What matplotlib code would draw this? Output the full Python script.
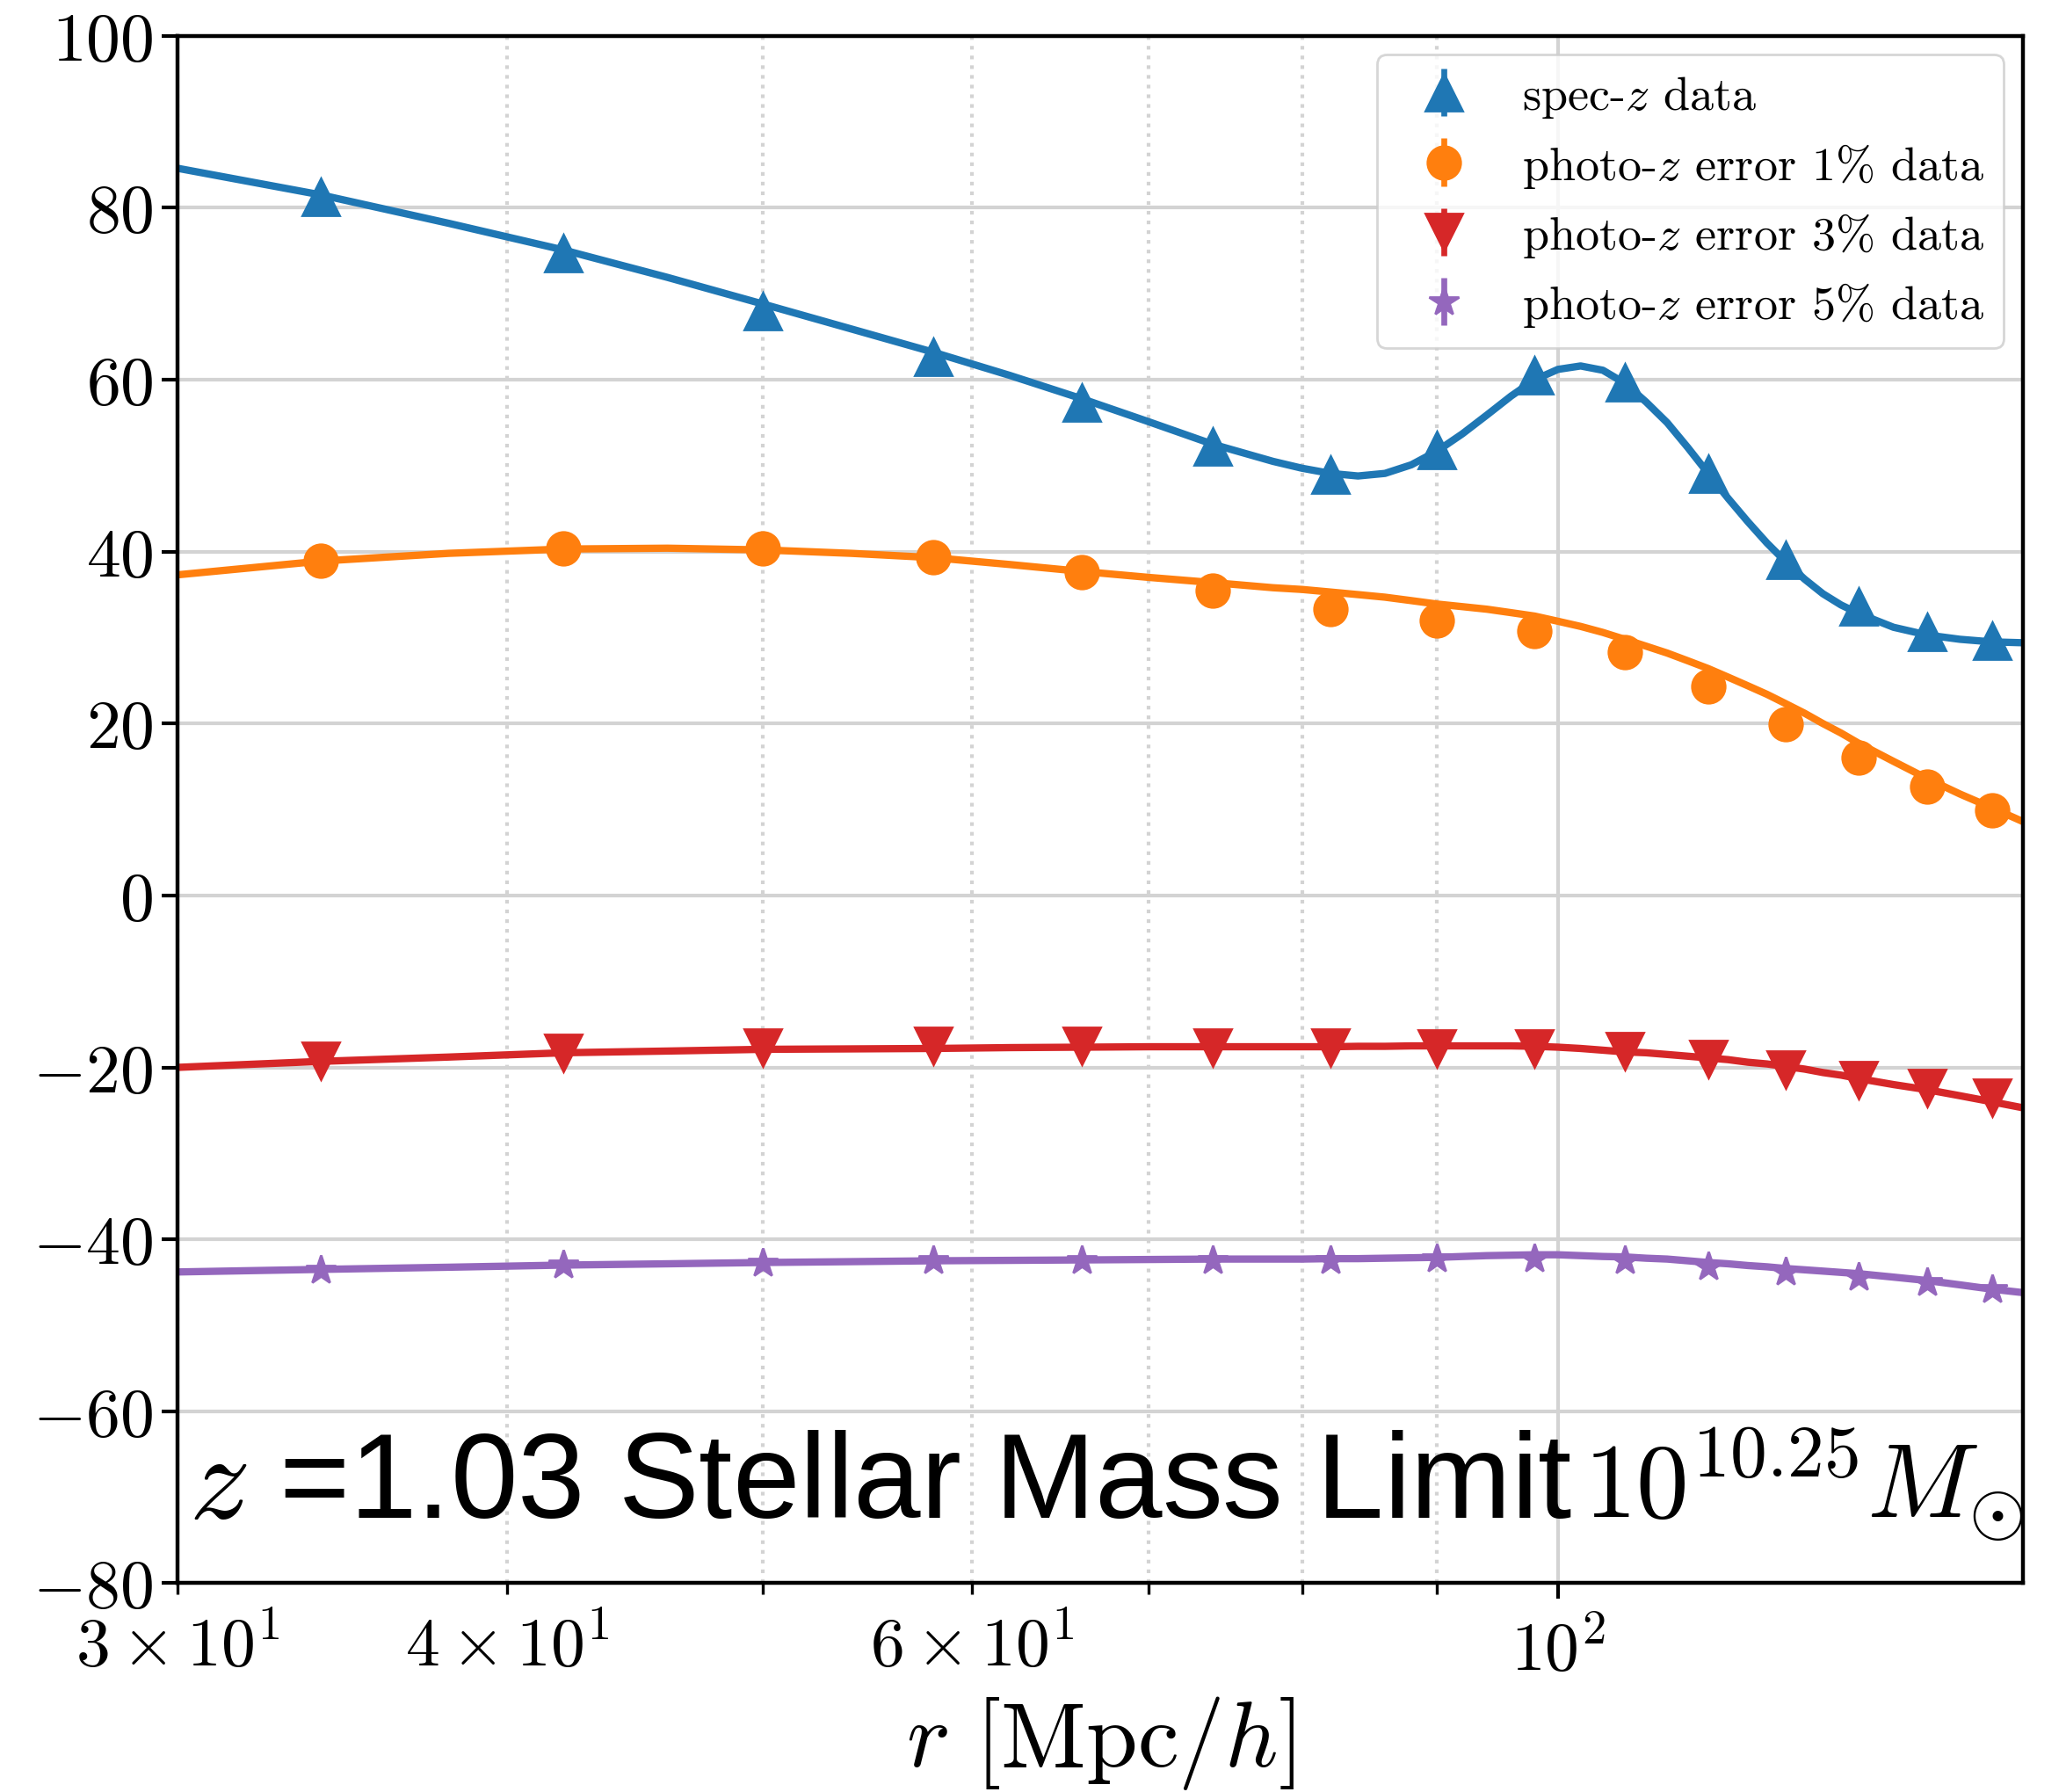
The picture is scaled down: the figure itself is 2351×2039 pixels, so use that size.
import numpy as np
import matplotlib
matplotlib.use('Agg')
from matplotlib import pyplot as plt
from matplotlib.ticker import FuncFormatter, MultipleLocator

plt.rcParams['font.family'] = 'serif'
plt.rcParams['font.serif'] = ['cmr10']
plt.rcParams['mathtext.fontset'] = 'cm'
plt.rcParams['axes.formatter.use_mathtext'] = True
plt.rcParams['axes.unicode_minus'] = False

# measured correlation function points (bin centres in Mpc/h)
r_data = [34, 42, 50, 58, 66, 74, 82, 90, 98, 106, 114, 122, 130, 138, 146]
xi_spec = [81.3, 74.7, 68.0, 62.7, 57.3, 52.2, 49.0, 51.8, 60.5, 59.7, 49.1, 39.0, 33.6, 30.7, 29.6]
xi_pz1 = [38.9, 40.4, 40.4, 39.4, 37.6, 35.5, 33.3, 32.0, 30.8, 28.3, 24.3, 19.9, 16.0, 12.7, 9.9]
xi_pz3 = [-19.2, -18.3, -17.7, -17.5, -17.5, -17.7, -17.7, -17.8, -17.8, -18.1, -19.0, -20.3, -21.5, -22.4, -23.5]
xi_pz5 = [-43.6, -43.0, -42.7, -42.4, -42.4, -42.4, -42.4, -42.2, -42.2, -42.4, -43.2, -43.8, -44.4, -45.0, -45.8]

err_spec = [0.5, 0.5, 0.4, 0.4, 0.4, 0.4, 0.4, 0.4, 0.4, 0.4, 0.4, 0.3, 0.3, 0.3, 0.3]
err_pz1 = [0.4, 0.4, 0.4, 0.3, 0.3, 0.3, 0.3, 0.3, 0.3, 0.3, 0.3, 0.3, 0.3, 0.3, 0.3]
err_pz3 = [0.3, 0.3, 0.3, 0.3, 0.3, 0.3, 0.2, 0.2, 0.2, 0.2, 0.2, 0.2, 0.2, 0.2, 0.2]
err_pz5 = [0.3, 0.3, 0.3, 0.2, 0.2, 0.2, 0.2, 0.2, 0.2, 0.2, 0.2, 0.2, 0.2, 0.2, 0.2]

# model curves
r_model = [30, 34, 38, 42, 46, 50, 54, 58, 62, 66, 70, 74, 78,
           80, 82, 84, 86, 88, 90, 92, 94, 96, 98, 100, 102, 104, 106,
           108, 110, 112, 114, 116, 118, 120, 122, 124, 126, 128, 130,
           134, 138, 142, 146, 150]
mod_spec = [84.6, 81.5, 78.2, 75.1, 71.9, 68.8, 65.9, 63.2, 60.5, 57.8, 55.1, 52.5, 50.5,
            49.7, 49.1, 48.8, 49.1, 50.1, 51.7, 53.7, 55.9, 58.1, 60.0, 61.2, 61.6, 61.1, 59.6,
            57.4, 55.0, 52.1, 49.1, 46.2, 43.5, 41.0, 38.8, 36.8, 35.1, 33.8, 32.8,
            31.2, 30.3, 29.8, 29.5, 29.4]
mod_pz1 = [37.3, 38.9, 39.8, 40.3, 40.4, 40.2, 39.8, 39.3, 38.5, 37.7, 37.0, 36.4, 35.8,
           35.6, 35.3, 35.0, 34.7, 34.3, 33.9, 33.6, 33.3, 32.9, 32.5, 31.9, 31.3, 30.6, 29.8,
           29.0, 28.2, 27.3, 26.4, 25.4, 24.4, 23.4, 22.3, 21.2, 20.0, 18.9, 17.7,
           15.6, 13.6, 11.8, 10.2, 8.6]
mod_pz3 = [-20.0, -19.3, -18.8, -18.3, -18.1, -17.9, -17.85, -17.8, -17.7, -17.65, -17.6, -17.6, -17.6,
           -17.6, -17.6, -17.55, -17.55, -17.5, -17.5, -17.5, -17.5, -17.5, -17.55, -17.65, -17.8, -18.0, -18.2,
           -18.3, -18.5, -18.7, -18.9, -19.1, -19.4, -19.6, -19.9, -20.2, -20.6, -20.9, -21.3,
           -22.0, -22.6, -23.3, -24.0, -24.7]
mod_pz5 = [-43.8, -43.5, -43.25, -43.0, -42.85, -42.7, -42.6, -42.5, -42.45, -42.4, -42.35, -42.3, -42.3,
           -42.3, -42.25, -42.25, -42.2, -42.15, -42.1, -42.0, -41.9, -41.85, -41.8, -41.8, -41.9, -42.0, -42.05,
           -42.2, -42.3, -42.5, -42.7, -42.85, -43.05, -43.2, -43.4, -43.55, -43.7, -43.85, -44.0,
           -44.4, -44.8, -45.3, -45.8, -46.2]

labels = [r'spec-$z$ data', r'photo-$z$ error 1% data',
          r'photo-$z$ error 3% data', r'photo-$z$ error 5% data']
colors = ['tab:blue', 'tab:orange', 'tab:red', 'tab:purple']
markers = ['^', 'o', 'v', '*']
msizes = [15, 13.5, 15, 12.5]

fig = plt.figure(figsize=(11.755, 10.2), dpi=200)
ax = fig.add_axes([0.0859, 0.1165, 0.8932, 0.863])

data = [xi_spec, xi_pz1, xi_pz3, xi_pz5]
errs = [err_spec, err_pz1, err_pz3, err_pz5]
models = [mod_spec, mod_pz1, mod_pz3, mod_pz5]

for i in range(4):
    ax.errorbar(r_data, data[i], yerr=errs[i], fmt=markers[i], color=colors[i],
                ms=msizes[i], elinewidth=2.4, label=labels[i], zorder=3)
    ax.plot(r_model, models[i], color=colors[i], lw=3.0, zorder=2)

ax.set_xscale('log')
ax.set_xlim(30, 150)
ax.set_ylim(-80, 100)
ax.yaxis.set_major_locator(MultipleLocator(20))
ax.yaxis.set_major_formatter(FuncFormatter(lambda v, p: '$%g$' % v))

ax.grid(which='major', color='#d3d3d3', lw=1.5)
ax.grid(which='minor', axis='x', color='#d3d3d3', lw=1.5, ls=':')
ax.set_axisbelow(True)

for s in ax.spines.values():
    s.set_linewidth(1.6)
ax.tick_params(which='major', labelsize=28, width=1.5, length=6.5)
ax.tick_params(which='minor', labelsize=28, width=1.2, length=4.5)
ax.tick_params(axis='x', which='both', pad=8)

ax.set_xlabel(r'$r\ [\mathrm{Mpc}/h]$', fontsize=38, labelpad=4)

ax.legend(loc='upper right', fontsize=19.5, borderaxespad=0.4,
          labelspacing=0.45, handletextpad=0.65)

# sample description, sans text followed by the mass limit in math
t1 = ax.text(0.006, 0.043, r'$z$ =1.03 Stellar Mass Limit',
             transform=ax.transAxes, fontsize=49.5, family='Liberation Sans',
             va='baseline', ha='left')
fig.canvas.draw()
bb = t1.get_window_extent()
x_end = ax.transAxes.inverted().transform((bb.x1, bb.y0))[0]
ax.text(x_end + 0.0065, 0.043, r'$10^{10.25}M_{\odot}$', transform=ax.transAxes,
        fontsize=43, va='baseline', ha='left')

fig.savefig('out.png', dpi=200)
